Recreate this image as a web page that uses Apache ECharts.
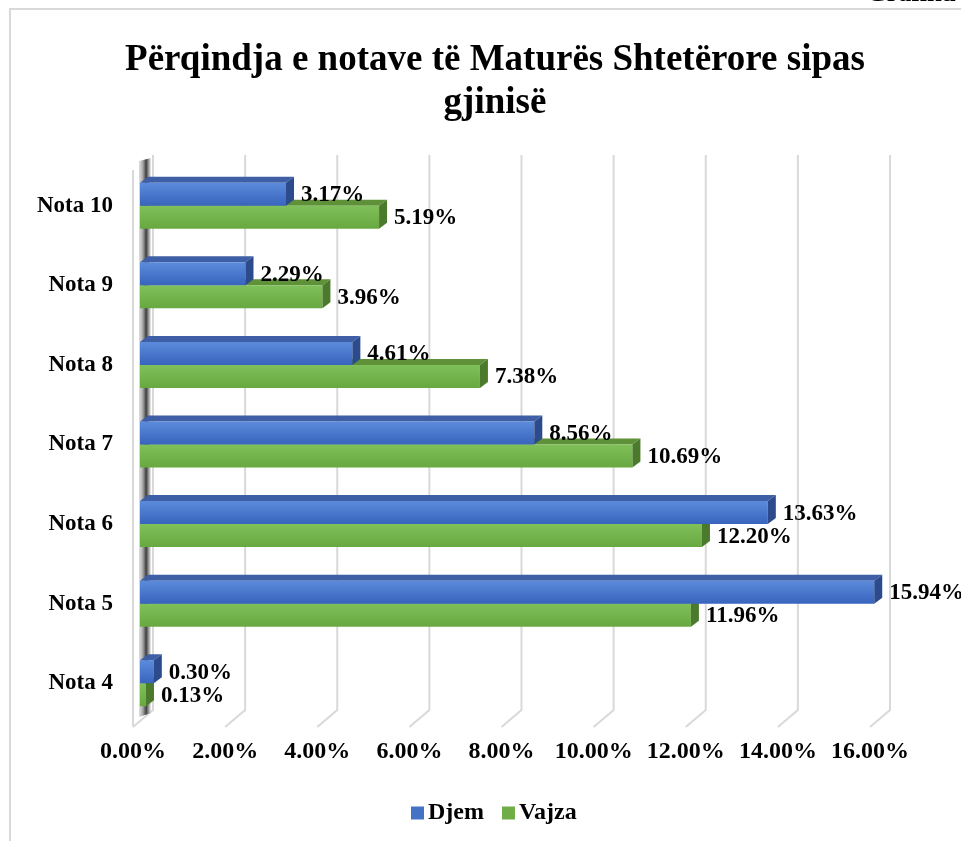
<!DOCTYPE html>
<html>
<head>
<meta charset="utf-8">
<script src="https://cdn.jsdelivr.net/npm/echarts@6/dist/echarts.min.js"></script>
<style>
  html, body { margin: 0; padding: 0; background: #fff; }
  #chart { width: 961px; height: 841px; }
</style>
</head>
<body>
<div id="chart"></div>
<script>
// data
const categories = ['Nota 10', 'Nota 9', 'Nota 8', 'Nota 7', 'Nota 6', 'Nota 5', 'Nota 4']
const djem = [3.17, 2.29, 4.61, 8.56, 13.63, 15.94, 0.30]
const vajza = [5.19, 3.96, 7.38, 10.69, 12.20, 11.96, 0.13]
const xTicks = [0, 2, 4, 6, 8, 10, 12, 14, 16]

const FONT = '"Liberation Serif", "Times New Roman", serif'
const BAR_H = 23
const DX = 8
const DY = -6

function grad(c1, c2) {
  return { type: 'linear', x: 0, y: 0, x2: 0, y2: 1, colorStops: [{ offset: 0, color: c1 }, { offset: 1, color: c2 }] }
}

// 3d-looking bar: front face, top face, right face, value label
function barRenderer(upper, c) {
  return function (params, api) {
    const val = api.value(0)
    const cat = api.value(1)
    const p0 = api.coord([0, cat])
    const p1 = api.coord([val, cat])
    const x0 = p0[0]
    const x1 = p1[0]
    const y0 = upper ? p0[1] - BAR_H : p0[1]
    return {
      type: 'group',
      children: [
        {
          type: 'polygon',
          shape: { points: [[x0, y0], [x0 + DX, y0 + DY], [x1 + DX, y0 + DY], [x1, y0]] },
          style: { fill: c.top }
        },
        {
          type: 'rect',
          shape: { x: x0, y: y0, width: x1 - x0, height: BAR_H },
          style: { fill: grad(c.front1, c.front2) }
        },
        {
          type: 'polygon',
          shape: { points: [[x1, y0], [x1 + DX, y0 + DY], [x1 + DX, y0 + BAR_H + DY], [x1, y0 + BAR_H]] },
          style: { fill: c.side }
        },
        {
          type: 'text',
          x: x1 + DX + 7,
          y: y0 + BAR_H / 2 + 1,
          style: {
            text: val.toFixed(2) + '%',
            font: 'bold 23px ' + FONT,
            fill: '#000',
            verticalAlign: 'middle'
          },
          z2: 10
        }
      ]
    }
  }
}

// back wall gridlines + floor edges + left wall
function wallRenderer(params, api) {
  const v = api.value(0)
  const cs = params.coordSys
  const top = cs.y
  const bottom = cs.y + cs.height
  const fx = api.coord([v, 0])[0]
  const children = [{
    type: 'polyline',
    shape: { points: [[fx + 13, top - 11], [fx + 13, bottom - 13], [fx - 7, bottom + 4]] },
    style: { stroke: '#D9D9D9', lineWidth: 2, fill: null }
  }]
  if (v === 0) {
    children.push({
      type: 'line',
      shape: { x1: fx - 7, y1: top + 4, x2: fx - 7, y2: bottom + 4 },
      style: { stroke: '#D9D9D9', lineWidth: 2 }
    })
    children.push({
      type: 'polygon',
      shape: { points: [[fx - 1, top - 5], [fx + 11, top - 8], [fx + 11, bottom - 10], [fx - 1, bottom - 6]] },
      style: {
        fill: {
          type: 'linear', x: 0, y: 0, x2: 1, y2: 0,
          colorStops: [
            { offset: 0, color: 'rgba(200,200,200,0.6)' },
            { offset: 0.3, color: 'rgba(150,150,150,0.8)' },
            { offset: 0.6, color: 'rgba(40,40,40,0.9)' },
            { offset: 0.85, color: 'rgba(150,150,150,0.8)' },
            { offset: 1, color: 'rgba(220,220,220,0.5)' }
          ]
        }
      }
    })
  }
  return { type: 'group', children: children }
}

const chart = echarts.init(document.getElementById('chart'))

chart.setOption({
  animation: false,
  backgroundColor: '#fff',
  title: {
    text: 'Përqindja e notave të Maturës Shtetërore sipas\ngjinisë',
    left: 490,
    top: 34,
    textAlign: 'center',
    textStyle: {
      fontFamily: FONT,
      fontWeight: 'bold',
      fontSize: 37,
      lineHeight: 43,
      color: '#000'
    }
  },
  graphic: [
    {
      type: 'rect',
      shape: { x: 10, y: 9, width: 1000, height: 900 },
      style: { stroke: '#D9D9D9', lineWidth: 2, fill: null },
      silent: true
    },
    {
      type: 'text',
      x: 956,
      y: 7,
      style: { text: 'Grafiku', font: 'bold 26px ' + FONT, fill: '#000', align: 'right', verticalAlign: 'bottom' },
      silent: true
    }
  ],
  legend: {
    data: ['Djem', 'Vajza'],
    left: 406,
    top: 796,
    icon: 'rect',
    itemWidth: 13,
    itemHeight: 13,
    itemGap: 18,
    textStyle: { fontFamily: FONT, fontWeight: 'bold', fontSize: 24, color: '#000', padding: [0, 0, 0, -1] }
  },
  grid: {
    left: 140,
    right: 84,
    top: 166,
    bottom: 118
  },
  xAxis: {
    type: 'value',
    min: 0,
    max: 16,
    interval: 2,
    axisLine: { show: false },
    axisTick: { show: false },
    splitLine: { show: false },
    axisLabel: {
      margin: 17,
      padding: [0, 14, 0, 0],
      formatter: v => v.toFixed(2) + '%',
      fontFamily: FONT,
      fontWeight: 'bold',
      fontSize: 24,
      color: '#000'
    }
  },
  yAxis: {
    type: 'category',
    data: categories,
    inverse: true,
    axisLine: { show: false },
    axisTick: { show: false },
    splitLine: { show: false },
    axisLabel: {
      margin: 27,
      padding: [12, 0, 0, 0],
      fontFamily: FONT,
      fontWeight: 'bold',
      fontSize: 23,
      color: '#000'
    }
  },
  series: [
    {
      name: 'walls',
      type: 'custom',
      silent: true,
      z: 1,
      renderItem: wallRenderer,
      encode: { x: 0, y: 1 },
      data: xTicks.map(v => [v, 0])
    },
    {
      name: 'Vajza',
      type: 'custom',
      z: 2,
      itemStyle: { color: '#70AD47' },
      renderItem: barRenderer(false, { front1: '#80C05A', front2: '#68A840', top: '#5E9138', side: '#4B7A2D' }),
      encode: { x: 0, y: 1 },
      data: vajza.map((v, i) => [v, i])
    },
    {
      name: 'Djem',
      type: 'custom',
      z: 3,
      itemStyle: { color: '#4472C4' },
      renderItem: barRenderer(true, { front1: '#5C8BDB', front2: '#3864BD', top: '#3E5FA6', side: '#2C4B8C' }),
      encode: { x: 0, y: 1 },
      data: djem.map((v, i) => [v, i])
    }
  ]
})
</script>
</body>
</html>
